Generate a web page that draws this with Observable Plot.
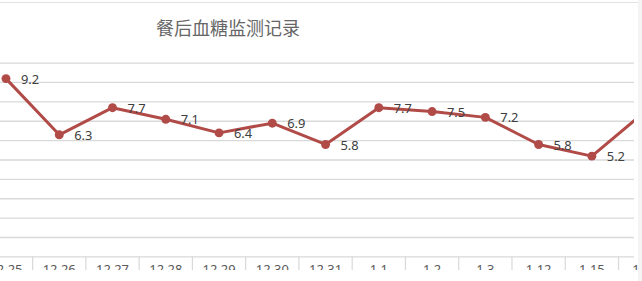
<!DOCTYPE html>
<html><head><meta charset="utf-8">
<script src="https://cdn.jsdelivr.net/npm/d3@7"></script>
<script src="https://cdn.jsdelivr.net/npm/@observablehq/plot@0.6"></script>
<style>
body{margin:0;background:#fff;}
#strip{position:absolute;left:638px;top:0;width:4px;height:281px;background:#f4f4f4;}
#wrap{position:relative;width:638px;height:270px;overflow:hidden;background:#fff;}
#topline{position:absolute;left:0;top:2px;width:638px;height:1px;background:#e2e2e2;}
#title{position:absolute;left:118px;width:220px;top:15px;text-align:center;font-size:18px;font-family:"Noto Sans CJK SC",sans-serif;color:#666;line-height:24px;}
#chart{position:absolute;left:0;top:0;}
</style></head>
<body>
<div id="strip"></div>
<div id="wrap"><div id="chart"></div><div id="topline"></div><div id="title">餐后血糖监测记录</div></div>
<script>
const dates = ["12.25","12.26","12.27","12.28","12.29","12.30","12.31","1.1","1.2","1.3","1.12","1.15","1.18"];
const glucose = [9.2, 6.3, 7.7, 7.1, 6.4, 6.9, 5.8, 7.7, 7.5, 7.2, 5.8, 5.2, 7.5];
const yTicks = [0,1,2,3,4,5,6,7,8,9,10];
const data = dates.map((d, i) => ({date: d, value: glucose[i]}));
const step = 53.6, firstCenter = 5.5;
const plot = Plot.plot({
  width: 642, height: 281,
  marginTop: 63, marginBottom: 23, marginLeft: 0, marginRight: 4,
  x: {type: "band", domain: dates, range: [firstCenter - step/2, firstCenter - step/2 + step*dates.length], padding: 0, round: false},
  y: {domain: [0, 10], axis: null},
  style: {fontFamily: "'Noto Sans', sans-serif", background: "transparent", overflow: "visible"},
  marks: [
    Plot.ruleY(yTicks, {stroke: "#d9d9d9", strokeWidth: 1.3}),
    Plot.ruleX(dates, {x: d => d, y1: 0, y2: -1.25, stroke: "#d9d9d9", strokeWidth: 1.2, dx: -step/2}),
    Plot.axisX({tickSize: 0, tickPadding: 8, fontSize: 13, fill: "#595959", label: null}),
    Plot.line(data, {x: "date", y: "value", stroke: "#b14b48", strokeWidth: 3, clip: true}),
    Plot.dot(data, {x: "date", y: "value", r: 4.5, fill: "#b14b48", clip: true}),
    Plot.text(data, {x: "date", y: "value", text: d => d.value.toFixed(1), dx: 15, dy: 1, textAnchor: "start", fontSize: 13, fill: "#404040"})
  ]
});
document.getElementById("chart").appendChild(plot);
</script>
</body></html>
